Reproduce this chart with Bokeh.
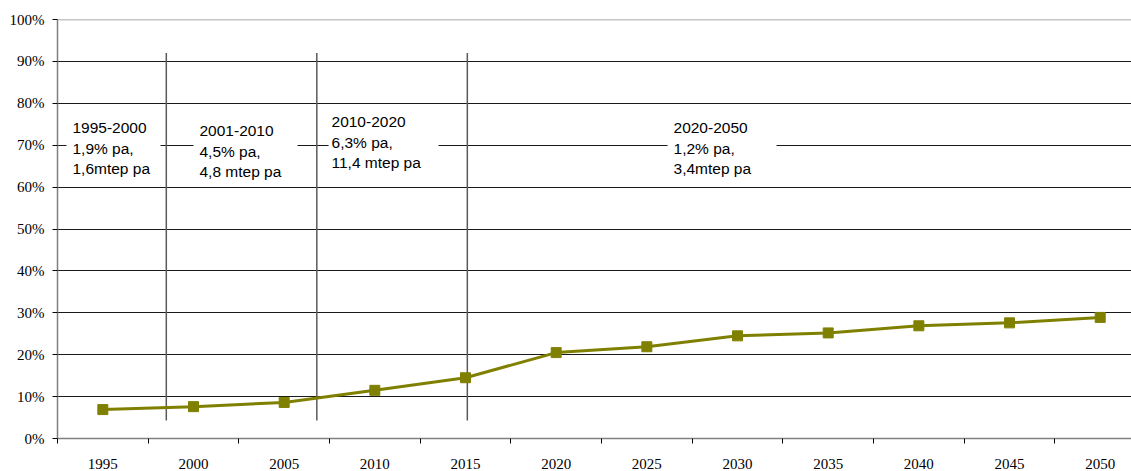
from bokeh.plotting import figure
from bokeh.models import FixedTicker, Range1d, Span
from bokeh.core.properties import value
from bokeh.embed import file_html
from bokeh.resources import INLINE

# ---- data ----
years = ["1995", "2000", "2005", "2010", "2015", "2020", "2025", "2030", "2035", "2040", "2045", "2050"]
share = [6.9, 7.6, 8.6, 11.5, 14.5, 20.5, 21.9, 24.5, 25.2, 26.9, 27.6, 28.9]
y_ticks = [0, 10, 20, 30, 40, 50, 60, 70, 80, 90, 100]

period_lines = [
    ["1995-2000", "1,9% pa,", "1,6mtep pa"],
    ["2001-2010", "4,5% pa,", "4,8 mtep pa"],
    ["2010-2020", "6,3% pa,", "11,4 mtep pa"],
    ["2020-2050", "1,2% pa,", "3,4mtep pa"],
]

# ---- layout helpers (category units: category i spans [i, i+1]) ----
centers = [i + 0.5 for i in range(len(years))]
divider_x = [1.20, 2.86, 4.52]
box_left = [0.099, 1.50, 2.99, 6.728]
box_right = [1.136, 2.647, 4.202, 7.93]
text_x = [0.165, 1.566, 3.022, 6.794]
text_top = [74.05, 73.3, 75.5, 74.05]
line_step = 4.8

p = figure(width=1131, height=471,
           x_range=Range1d(0, (1131 - 57) / 90.67), y_range=Range1d(0, 100),
           output_backend="svg", toolbar_location=None,
           min_border_left=57, min_border_right=0,
           min_border_top=19, min_border_bottom=32)
p.outline_line_color = None
p.background_fill_color = "white"

# x axis
p.xaxis.ticker = FixedTicker(ticks=centers, minor_ticks=list(range(len(years) + 1)))
p.xaxis.major_label_overrides = {c: y for c, y in zip(centers, years)}
p.xaxis.major_tick_out = 0
p.xaxis.major_tick_in = 0
p.xaxis.minor_tick_out = 5
p.xaxis.minor_tick_in = 0
p.xaxis.minor_tick_line_color = "black"
p.xaxis.major_label_standoff = 15
p.xaxis.axis_line_color = "#808080"
p.xaxis.axis_line_width = 1.5
p.xaxis.major_label_text_font = "Liberation Serif"
p.xaxis.major_label_text_font_size = "15px"
p.xaxis.major_label_text_color = "black"

# y axis
p.yaxis.ticker = FixedTicker(ticks=y_ticks)
p.yaxis.major_label_overrides = {t: f"{t}%" for t in y_ticks}
p.yaxis.major_tick_out = 5
p.yaxis.major_tick_in = 0
p.yaxis.minor_tick_out = 0
p.yaxis.minor_tick_in = 0
p.yaxis.major_tick_line_color = "black"
p.yaxis.major_label_standoff = 8
p.yaxis.axis_line_color = "#808080"
p.yaxis.axis_line_width = 1.5
p.yaxis.major_label_text_font = "Liberation Serif"
p.yaxis.major_label_text_font_size = "15px"
p.yaxis.major_label_text_color = "black"

# grid
p.xgrid.visible = False
p.ygrid.ticker = FixedTicker(ticks=y_ticks[1:-1])
p.ygrid.grid_line_color = "#1a1a1a"
p.ygrid.grid_line_width = 1
p.add_layout(Span(location=100, dimension="width", line_color="#8c8c8c", line_width=1.5))

# white boxes behind period annotations
p.quad(left=box_left, right=box_right, bottom=[62] * 4, top=[78] * 4,
       fill_color="white", line_color=None)

# period dividers
p.segment(x0=divider_x, y0=[4.3] * 3, x1=divider_x, y1=[92] * 3,
          line_color="#5a5a5a", line_width=1.5)

# annotation texts
tx, ty, tt = [], [], []
for lines, x0, y0 in zip(period_lines, text_x, text_top):
    for k, s in enumerate(lines):
        tx.append(x0)
        ty.append(y0 - k * line_step)
        tt.append(s)
p.text(x=tx, y=ty, text=tt, text_font=value("Liberation Sans"),
       text_font_size="15.5px", text_baseline="middle", text_align="left",
       text_color="black")

# series
p.line(x=centers, y=share, line_color="#808000", line_width=3)
p.scatter(x=centers, y=share, marker="square", size=10,
          fill_color="#808000", line_color="#808000")

open("out.html", "w").write(file_html(p, INLINE))
